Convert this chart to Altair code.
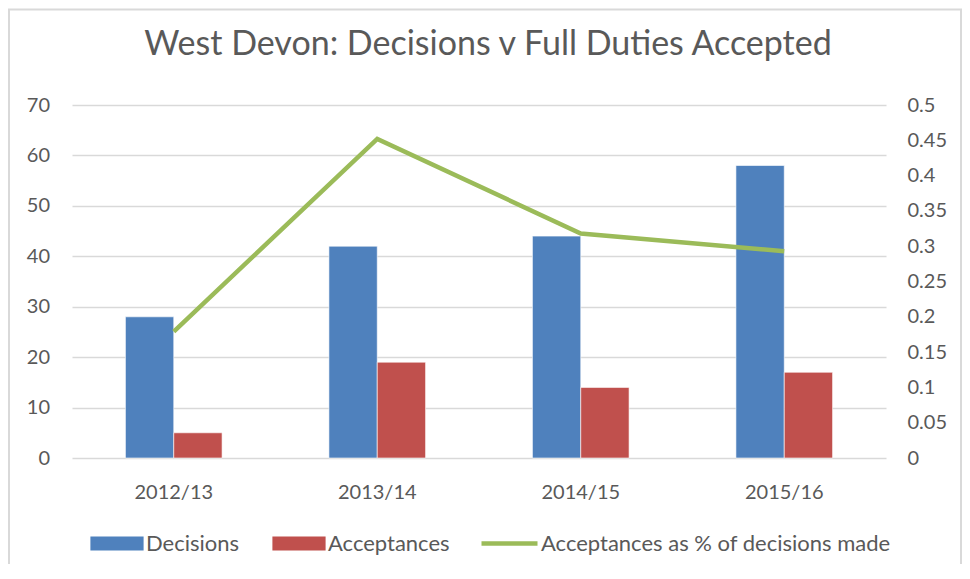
import altair as alt
import pandas as pd

years = ["2012/13", "2013/14", "2014/15", "2015/16"]
decisions = [28, 42, 44, 58]
acceptances = [5, 19, 14, 17]
pct_accepted = [0.179, 0.452, 0.318, 0.293]
series_names = ["Decisions", "Acceptances"]
line_name = "Acceptances as % of decisions made"
left_ticks = [0, 10, 20, 30, 40, 50, 60, 70]
right_ticks = [0, 0.05, 0.1, 0.15, 0.2, 0.25, 0.3, 0.35, 0.4, 0.45, 0.5]
bar_colors = ["#4F81BD", "#C0504D"]
line_color = "#9BBB59"

rows = []
for yr, d, a in zip(years, decisions, acceptances):
    rows.append({"year": yr, "series": "Decisions", "value": d})
    rows.append({"year": yr, "series": "Acceptances", "value": a})
bars_df = pd.DataFrame(rows)
line_df = pd.DataFrame({"year": years, "pct": pct_accepted, "name": [line_name] * len(years)})

FONT = "Lato"
GREY = "#595959"
LABEL_SIZE = 20
LEGEND_SIZE = 22

x_enc = alt.X(
    "year:N",
    sort=years,
    scale=alt.Scale(paddingInner=0.525, paddingOuter=0.2625),
    axis=alt.Axis(title=None, labelAngle=0, labelPadding=24, ticks=False,
                  domain=False, grid=False),
)

border = alt.Chart(pd.DataFrame({"k": [0]})).mark_rect(
    fill="transparent", stroke="#d9d9d9", strokeWidth=2
).encode(
    x=alt.value(-63), x2=alt.value(889), y=alt.value(-95.5), y2=alt.value(520)
)

bars = alt.Chart(bars_df).mark_bar(stroke="white", strokeWidth=0.6).encode(
    x=x_enc,
    xOffset=alt.XOffset("series:N", sort=series_names,
                        scale=alt.Scale(domain=series_names, paddingInner=0, paddingOuter=0)),
    y=alt.Y("value:Q", scale=alt.Scale(domain=[0, 70], nice=False),
            axis=alt.Axis(values=left_ticks, title=None, orient="left", grid=True,
                          labelPadding=22.5, labelAlign="right", ticks=False, domain=False)),
    color=alt.Color(
        "series:N",
        sort=series_names,
        scale=alt.Scale(domain=series_names, range=bar_colors),
        legend=alt.Legend(
            title=None, orient="none", legendX=31, legendY=424.5,
            direction="horizontal", columns=2,
            symbolType="M-1.9,-0.5H1.9V0.5H-1.9Z", symbolSize=784,
            symbolStrokeWidth=0, labelOffset=15, columnPadding=32, padding=0,
            labelFont=FONT, labelFontSize=LEGEND_SIZE, labelColor=GREY, labelLimit=0,
        ),
    ),
)

line = alt.Chart(line_df).mark_line(strokeWidth=4.5).encode(
    x=x_enc,
    y=alt.Y("pct:Q", scale=alt.Scale(domain=[0, 0.5], nice=False),
            axis=alt.Axis(values=right_ticks, title=None, orient="right", grid=False,
                          format="~g", labelPadding=21, ticks=False, domain=False)),
    stroke=alt.Stroke(
        "name:N",
        scale=alt.Scale(domain=[line_name], range=[line_color]),
        legend=alt.Legend(
            title=None, orient="none", legendX=407, legendY=408,
            symbolType="stroke", symbolSize=3136, symbolStrokeWidth=4.5,
            labelOffset=1, padding=0,
            labelFont=FONT, labelFontSize=LEGEND_SIZE, labelColor=GREY, labelLimit=0,
        ),
    ),
)

chart = alt.layer(border, bars, line).resolve_scale(
    y="independent"
).properties(
    width=814,
    height=353,
    autosize=alt.AutoSizeParams(type="none"),
    padding={"left": 64, "top": 97, "right": 76, "bottom": 106},
    background="white",
    title=alt.Title(
        "West Devon: Decisions v Full Duties Accepted",
        font=FONT, fontSize=34, fontWeight="normal", color=GREY,
        offset=0, baseline="alphabetic", dy=80, dx=9,
    ),
).configure_view(
    stroke=None
).configure_axis(
    labelFont=FONT, labelFontSize=LABEL_SIZE, labelColor=GREY,
    gridColor="#d9d9d9", gridWidth=1.5,
)

chart.save("out.html", embed_options={"renderer": "svg", "actions": False})
